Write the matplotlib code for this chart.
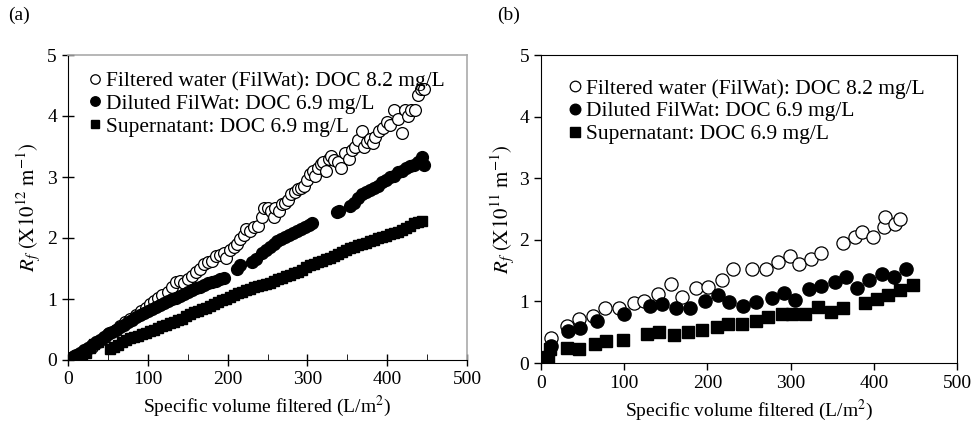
import matplotlib
matplotlib.use("Agg")
import matplotlib.pyplot as plt
from matplotlib.ticker import MultipleLocator

plt.rcParams["font.family"] = ["Liberation Serif", "DejaVu Serif"]
plt.rcParams["mathtext.fontset"] = "stix"

# ---- panel (a) data ----
a_fil_x = [3, 8, 15, 22, 30, 38, 46, 52, 60, 65, 72, 78, 85, 92, 98, 103, 108, 113, 118, 125,
           130, 135, 140, 145, 150, 155, 160, 165, 170, 175, 180, 185, 190, 195, 198, 203, 208,
           212, 216, 220, 223, 228, 233, 238, 243, 246, 250, 254, 258, 260, 265, 268, 272, 276,
           280, 284, 288, 292, 296, 300, 303, 307, 310, 313, 317, 320, 323, 327, 330, 333, 338,
           342, 347, 352, 356, 360, 364, 368, 371, 375, 378, 382, 385, 390, 395, 400, 404, 408,
           414, 418, 422, 426, 430, 435, 438, 442, 446]
a_fil_y = [0.03, 0.06, 0.1, 0.15, 0.22, 0.3, 0.38, 0.44, 0.5, 0.55, 0.62, 0.68, 0.73, 0.8, 0.86,
           0.92, 0.97, 1.02, 1.06, 1.12, 1.2, 1.28, 1.3, 1.27, 1.33, 1.38, 1.45, 1.5, 1.58, 1.6,
           1.62, 1.7, 1.72, 1.75, 1.68, 1.8, 1.85, 1.9, 1.98, 2.05, 2.15, 2.12, 2.18, 2.2, 2.35,
           2.5, 2.5, 2.44, 2.35, 2.5, 2.45, 2.55, 2.58, 2.62, 2.72, 2.75, 2.8, 2.82, 2.86, 2.95,
           3.05, 3.1, 3.02, 3.15, 3.22, 3.25, 3.1, 3.3, 3.35, 3.28, 3.25, 3.15, 3.4, 3.3, 3.45,
           3.5, 3.6, 3.75, 3.5, 3.58, 3.62, 3.55, 3.65, 3.75, 3.8, 3.9, 3.85, 4.1, 3.95, 3.72,
           4.1, 4.0, 4.1, 4.1, 4.35, 4.45, 4.45]

a_dil_x = [2, 6, 10, 15, 20, 25, 30, 35, 40, 45, 50, 55, 60, 65, 70, 75, 80, 85, 90, 95, 100,
           105, 110, 115, 120, 125, 130, 135, 140, 145, 150, 155, 160, 165, 170, 175, 180, 185,
           190, 195, 212, 216, 231, 235, 243, 248, 253, 258, 262, 267, 272, 277, 282, 287, 292,
           297, 302, 306, 337, 340, 354, 358, 364, 369, 374, 379, 384, 389, 394, 399, 404, 409,
           414, 419, 424, 429, 434, 439, 443, 446]
a_dil_y = [0.02, 0.05, 0.08, 0.12, 0.17, 0.2, 0.25, 0.3, 0.33, 0.38, 0.42, 0.46, 0.5, 0.54, 0.58,
           0.62, 0.66, 0.7, 0.74, 0.77, 0.8, 0.84, 0.87, 0.9, 0.93, 0.96, 1.0, 1.02, 1.05, 1.08,
           1.12, 1.15, 1.18, 1.2, 1.23, 1.26, 1.28, 1.3, 1.32, 1.35, 1.5, 1.55, 1.6, 1.65, 1.75,
           1.8, 1.85, 1.9, 1.95, 1.98, 2.02, 2.05, 2.08, 2.12, 2.15, 2.18, 2.22, 2.24, 2.42, 2.45,
           2.52, 2.58, 2.65, 2.72, 2.76, 2.78, 2.82, 2.86, 2.92, 2.95, 3.0, 3.02, 3.08, 3.1, 3.15,
           3.18, 3.2, 3.25, 3.32, 3.2]

a_sup_x = [3, 8, 13, 18, 23, 28, 33, 38, 53, 58, 63, 68, 73, 78, 83, 88, 93, 98, 103, 108, 113,
           118, 123, 128, 133, 138, 143, 148, 153, 158, 163, 168, 173, 178, 183, 188, 193, 198,
           203, 208, 213, 218, 223, 228, 233, 238, 243, 248, 253, 258, 263, 268, 273, 278, 283,
           288, 293, 298, 303, 308, 313, 318, 323, 328, 333, 338, 343, 348, 353, 358, 363, 368,
           373, 378, 383, 388, 393, 398, 403, 408, 413, 418, 423, 428, 433, 438, 443]
a_sup_y = [0.02, 0.04, 0.07, 0.09, 0.12, 0.2, 0.27, 0.3, 0.18, 0.22, 0.25, 0.3, 0.33, 0.36, 0.38,
           0.4, 0.43, 0.45, 0.48, 0.5, 0.53, 0.56, 0.58, 0.6, 0.63, 0.65, 0.68, 0.72, 0.75, 0.78,
           0.8, 0.83, 0.86, 0.88, 0.92, 0.95, 0.98, 1.0, 1.04, 1.07, 1.1, 1.12, 1.15, 1.17, 1.2,
           1.22, 1.23, 1.25, 1.27, 1.3, 1.32, 1.35, 1.37, 1.4, 1.43, 1.45, 1.48, 1.52, 1.55, 1.58,
           1.6, 1.62, 1.65, 1.68, 1.7, 1.73, 1.77, 1.8, 1.83, 1.86, 1.88, 1.9, 1.92, 1.95, 1.97,
           2.0, 2.02, 2.04, 2.06, 2.08, 2.1, 2.13, 2.16, 2.2, 2.24, 2.27, 2.28]

# ---- panel (b) data ----
b_fil_x = [12, 31, 46, 63, 77, 94, 112, 124, 141, 156, 170, 186, 201, 217, 231, 254, 271, 285,
           299, 310, 324, 337, 363, 377, 386, 399, 412, 414, 426, 432]
b_fil_y = [0.41, 0.60, 0.71, 0.76, 0.90, 0.90, 0.98, 1.01, 1.12, 1.28, 1.07, 1.21, 1.23, 1.35,
           1.52, 1.52, 1.53, 1.64, 1.73, 1.60, 1.69, 1.79, 1.95, 2.05, 2.12, 2.05, 2.20, 2.37,
           2.26, 2.34]

b_dil_x = [12, 33, 47, 67, 100, 131, 145, 162, 179, 197, 213, 226, 243, 259, 278, 292, 305, 322,
           337, 353, 367, 380, 394, 410, 424, 439]
b_dil_y = [0.28, 0.52, 0.57, 0.68, 0.80, 0.92, 0.95, 0.90, 0.90, 1.01, 1.11, 0.99, 0.92, 0.99,
           1.06, 1.13, 1.03, 1.20, 1.25, 1.32, 1.40, 1.21, 1.34, 1.45, 1.40, 1.53]

b_sup_x = [9, 11, 31, 46, 65, 78, 98, 128, 142, 160, 177, 194, 212, 225, 242, 258, 273, 290, 302,
           317, 333, 348, 363, 390, 404, 417, 432, 447]
b_sup_y = [0.10, 0.22, 0.25, 0.22, 0.31, 0.36, 0.37, 0.47, 0.50, 0.46, 0.50, 0.53, 0.58, 0.63,
           0.63, 0.68, 0.74, 0.80, 0.79, 0.80, 0.91, 0.82, 0.89, 0.97, 1.04, 1.11, 1.18, 1.27]

labels = ["Filtered water (FilWat): DOC 8.2 mg/L",
          "Diluted FilWat: DOC 6.9 mg/L",
          "Supernatant: DOC 6.9 mg/L"]

fig = plt.figure(figsize=(9.74, 4.21), dpi=100)
ax1 = fig.add_axes([68 / 974, 61 / 421, 399 / 974, 305 / 421])
ax2 = fig.add_axes([541 / 974, 58 / 421, 416 / 974, 308 / 421])


def draw(ax, fx, fy, dx, dy, sx, sy, ms, pad):
    ax.plot(fx, fy, "o", mfc="white", mec="black", mew=0.9, ms=ms, ls="none", label=labels[0])
    ax.plot(dx, dy, "o", mfc="black", mec="black", ms=ms, ls="none", label=labels[1])
    ax.plot(sx, sy, "s", mfc="black", mec="black", ms=ms - 0.8, ls="none", label=labels[2])
    ax.set_xlim(0, 500)
    ax.set_ylim(0, 5)
    ax.xaxis.set_major_locator(MultipleLocator(100))
    ax.yaxis.set_major_locator(MultipleLocator(1))
    ax.tick_params(labelsize=14, width=1, length=5)
    ax.set_xlabel("Specific volume filtered (L/m$^2$)", fontsize=14, labelpad=4)
    ax.legend(loc="upper left", frameon=False, fontsize=15.5, handletextpad=0.0,
              borderaxespad=pad, labelspacing=0.12, handlelength=1.0, markerscale=0.8)


draw(ax1, a_fil_x, a_fil_y, a_dil_x, a_dil_y, a_sup_x, a_sup_y, 8.5, 0.35)
draw(ax2, b_fil_x, b_fil_y, b_dil_x, b_dil_y, b_sup_x, b_sup_y, 9.5, 0.7)

ax1.set_ylabel(r"$R_f\ (\mathrm{X10^{12}\ m^{-1}})$", fontsize=15, labelpad=3)
ax2.set_ylabel(r"$R_f\ (\mathrm{X10^{11}\ m^{-1}})$", fontsize=15, labelpad=2)

# panel (a): ticks crossing the axis, light top/right frame
ax1.xaxis.set_minor_locator(MultipleLocator(50))
ax1.tick_params(which="major", direction="inout", length=9)
ax1.tick_params(axis="x", which="minor", direction="in", length=4)
for s in ["top", "right"]:
    ax1.spines[s].set_color("#aaaaaa")
    ax1.spines[s].set_linewidth(1.2)

ax2.tick_params(direction="out", length=5)

fig.text(8 / 974, 1 - 15 / 421, "(a)", fontsize=14, va="center")
fig.text(497 / 974, 1 - 15 / 421, "(b)", fontsize=14, va="center")

fig.savefig("out.png", dpi=100)
